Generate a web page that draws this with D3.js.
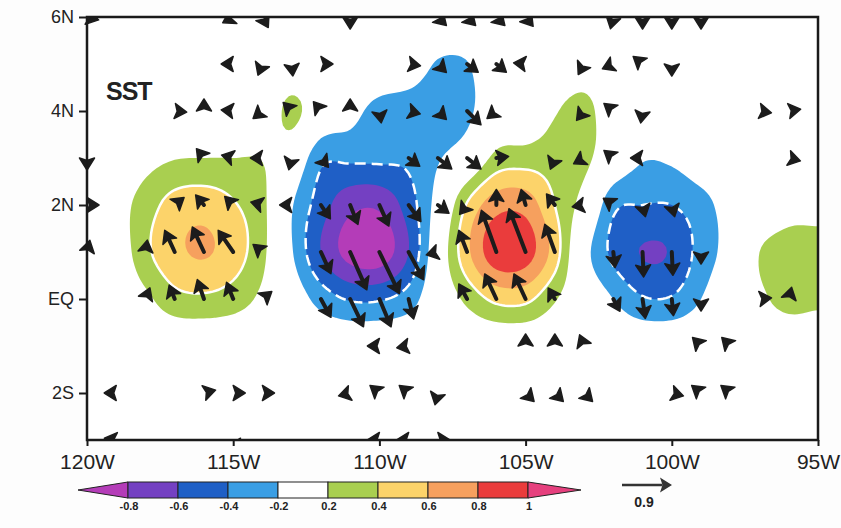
<!DOCTYPE html>
<html>
<head>
<meta charset="utf-8">
<script src="https://cdn.jsdelivr.net/npm/d3@7"></script>
<style>
body { margin: 0; background: #fdfdfd; }
text { font-family: "Liberation Sans", Arial, sans-serif; fill: #222; }
</style>
</head>
<body>
<svg width="841" height="528"></svg>
<script>
// grid of the field, 1 degree
var lons = [-120,-119,-118,-117,-116,-115,-114,-113,-112,-111,-110,-109,-108,-107,-106,-105,-104,-103,-102,-101,-100,-99,-98,-97,-96,-95];
var lats = [6,5,4,3,2,1,0,-1,-2,-3];

// SST anomaly, one row per latitude (west -> east)
var sstN6 = [0,0,0,0,0,0,0,0,0,0,0,0,0,0,0,0,0,0,0,0,0,0,0,0,0,0];
var sstN5 = [0,0,0,0,0,0,0,0,0,0,0,-0.05,-0.22,-0.21,0,0,0,0.05,0,0,0,0,0,0,0,0];
var sstN4 = [0,0,0,0,0,0,0,0.26,0,-0.12,-0.28,-0.32,-0.33,-0.25,0,0,0.18,0.28,0.02,0,0,0,0,0,0,0];
var sstN3 = [0,0,0.12,0.19,0.2,0.2,0.19,0.02,-0.35,-0.36,-0.36,-0.36,-0.22,-0.05,0.26,0.3,0.3,0.26,0,-0.18,-0.16,-0.05,0,0,0,0];
var sstN2 = [0,0.1,0.3,0.48,0.52,0.42,0.25,-0.18,-0.5,-0.74,-0.76,-0.5,-0.1,0.42,0.72,0.72,0.4,0.1,-0.35,-0.4,-0.4,-0.28,-0.1,0,0.1,0.12];
var sstN1 = [0,0.05,0.35,0.55,0.62,0.5,0.25,-0.18,-0.6,-0.88,-0.92,-0.6,0,0.55,0.93,0.9,0.5,-0.1,-0.45,-0.61,-0.58,-0.32,-0.1,0.2,0.3,0.28];
var sstEQ = [0,0,0.15,0.33,0.36,0.3,0.15,-0.05,-0.28,-0.42,-0.42,-0.3,0,0.25,0.45,0.45,0.22,0,-0.2,-0.38,-0.38,-0.2,0,0.15,0.28,0.25];
var sstS1 = [0,0,0,0,0,0,0,0,0,0,0,0,0,0,0,0,0,0,0,0,0,0,0,0,0,0];
var sstS2 = [0,0,0,0,0,0,0,0,0,0,0,0,0,0,0,0,0,0,0,0,0,0,0,0,0,0];
var sstS3 = [0,0,0,0,0,0,0,0,0,0,0,0,0,0,0,0,0,0,0,0,0,0,0,0,0,0];
var sstRows = [sstN6, sstN5, sstN4, sstN3, sstN2, sstN1, sstEQ, sstS1, sstS2, sstS3];

// current vectors [lon, u, v] per latitude
var vecN6 = [[-120,0.2,-0.05],[-115,-0.18,-0.1],[-114,0.1,-0.18],[-111,0,-0.15],[-108,0.15,-0.15],[-107,0.15,-0.15],[-106,0.15,-0.15],[-105,0.12,-0.15],[-102,-0.05,-0.2],[-101,0,-0.18],[-100,0,-0.15],[-99,0,-0.12]];
var vecN5 = [[-115,-0.2,0],[-114,-0.08,-0.2],[-113,0.02,-0.2],[-112,0.2,0],[-109,0.2,-0.03],[-108,0.15,-0.15],[-107,0.2,-0.15],[-106,0.18,-0.15],[-105,-0.2,0.02],[-103,-0.1,-0.18],[-102,-0.18,-0.08],[-101,-0.15,0.12],[-100,0,-0.2]];
var vecN4 = [[-117,0.2,-0.02],[-116,0,0.2],[-115,-0.2,0.02],[-114,-0.15,-0.12],[-113,-0.12,0.12],[-112,-0.12,0.15],[-111,0,0.2],[-110,0.03,-0.2],[-109,0.2,-0.05],[-108,0.15,-0.15],[-107,0.25,-0.25],[-106,-0.15,-0.12],[-103,-0.12,-0.15],[-102,-0.15,0.12],[-101,-0.03,-0.2],[-97,0.2,-0.03],[-96,0.2,0.03]];
var vecN3 = [[-120,0,-0.2],[-116,-0.12,0.15],[-115,-0.2,0.05],[-114,-0.2,0],[-113,-0.05,-0.2],[-112,0.12,-0.15],[-109,0.2,-0.15],[-108,0.25,-0.2],[-107,0.25,-0.2],[-106,0.22,0.03],[-104,-0.08,-0.2],[-103,-0.18,-0.1],[-102,-0.15,0.12],[-101,-0.2,0],[-96,0.2,-0.05]];
var vecN2 = [[-120,0.2,0],[-117,0.15,0.12],[-116,-0.15,0.18],[-115,-0.15,0.15],[-114,-0.2,0.05],[-113,-0.2,0],[-112,0.17,-0.25],[-111,0.14,-0.35],[-110,0.17,-0.38],[-109,0.22,-0.3],[-108,0.2,-0.15],[-107,-0.12,-0.15],[-106,0,0.28],[-105,-0.08,0.28],[-104,-0.15,0.2],[-103,-0.2,-0.03],[-102,-0.15,0.1],[-101,0.05,-0.2],[-100,0.05,-0.2]];
var vecN1 = [[-120,0.05,0.2],[-118,0.03,0.2],[-117,-0.18,0.39],[-116,-0.21,0.45],[-115,-0.27,0.39],[-114,-0.15,0.12],[-112,0.18,-0.39],[-111,0.3,-0.68],[-110,0.36,-0.75],[-109,0.27,-0.5],[-108,-0.2,-0.05],[-107,-0.15,0.39],[-106,-0.27,0.75],[-105,-0.3,0.78],[-104,-0.18,0.5],[-102,0.03,-0.28],[-101,0.02,-0.45],[-100,0.02,-0.42],[-99,0,-0.2]];
var vecEQ = [[-118,0.08,0.2],[-117,-0.1,0.25],[-116,-0.12,0.35],[-115,-0.12,0.3],[-114,0.15,0.12],[-112,0.18,-0.33],[-111,0.24,-0.5],[-110,0.21,-0.5],[-109,0.09,-0.36],[-107,-0.15,0.27],[-106,-0.21,0.45],[-105,-0.21,0.45],[-104,-0.12,0.2],[-102,0.12,-0.22],[-101,0.05,-0.35],[-100,0.03,-0.3],[-99,0,-0.2],[-97,0.2,0.02],[-96,0.05,0.2]];
var vecS1 = [[-110,-0.2,0],[-109,-0.2,-0.03],[-105,0,0.2],[-104,0,0.2],[-103,-0.08,0.2],[-99,-0.15,0.15],[-98,-0.15,0.15]];
var vecS2 = [[-119,-0.2,0],[-116,0.2,0.05],[-115,0.2,0],[-114,0.2,0],[-111,-0.2,-0.05],[-110,-0.15,0.12],[-109,-0.15,0.12],[-108,-0.05,-0.2],[-105,0.15,-0.15],[-104,0.15,-0.15],[-103,0.15,-0.15],[-100,0.2,-0.05],[-99,-0.15,0.12],[-98,-0.15,0.12]];
var vecS3 = [[-119,-0.2,0.03],[-115,0.05,-0.2],[-110,-0.2,0],[-109,-0.2,0],[-108,0.2,0],[-104,0,-0.2],[-103,0,-0.2]];
var vecRows = [vecN6, vecN5, vecN4, vecN3, vecN2, vecN1, vecEQ, vecS1, vecS2, vecS3];

var latTicks = [6,4,2,0,-2];
var latLabels = ["6N","4N","2N","EQ","2S"];
var lonTicks = [-120,-115,-110,-105,-100,-95];
var lonLabels = ["120W","115W","110W","105W","100W","95W"];

var levels = [-0.8,-0.6,-0.4,-0.2,0.2,0.4,0.6,0.8,1];
var levelLabels = ["-0.8","-0.6","-0.4","-0.2","0.2","0.4","0.6","0.8","1"];
var colors = ["#b43cb8","#7440c2","#1f5fc6","#3a9ee4","#ffffff","#a9cf50","#fcd36a","#f6a05e","#ea3c3c","#e6407e"];
var refVector = 0.9;

var svg = d3.select("svg");
var x = d3.scaleLinear().domain([-120,-95]).range([87,818]);
var y = d3.scaleLinear().domain([-3,6]).range([440,17]);
var S = 50 / refVector; // px per unit of current

svg.append("rect").attr("width",841).attr("height",528).attr("fill","#fdfdfd");
svg.append("rect").attr("x",87).attr("y",17).attr("width",731).attr("height",423).attr("fill","#fff");

var defs = svg.append("defs");
defs.append("clipPath").attr("id","plot").append("rect")
  .attr("x",87).attr("y",17).attr("width",731).attr("height",423);
defs.append("clipPath").attr("id","vec").append("rect")
  .attr("x",76).attr("y",17).attr("width",752).attr("height",423);

// smooth the 1-degree grid for contouring (Catmull-Rom)
var step = 0.1;
var nx = Math.round(25/step)+1, ny = Math.round(9/step)+1;
function cr(p0,p1,p2,p3,t){
  return p1 + 0.5*t*(p2-p0 + t*(2*p0-5*p1+4*p2-p3 + t*(3*(p1-p2)+p3-p0)));
}
function at(j,i){
  j = Math.max(0, Math.min(lats.length-1, j));
  i = Math.max(0, Math.min(lons.length-1, i));
  return sstRows[j][i];
}
function sample(gx, gy){
  var i = Math.floor(gx), j = Math.floor(gy);
  var tx = gx-i, ty = gy-j;
  var r = [];
  for (var k=-1; k<=2; k++){
    r.push(cr(at(j+k,i-1), at(j+k,i), at(j+k,i+1), at(j+k,i+2), tx));
  }
  return cr(r[0],r[1],r[2],r[3],ty);
}
var field = new Array(nx*ny);
for (var jj=0; jj<ny; jj++){
  for (var ii=0; ii<nx; ii++){
    field[jj*nx+ii] = sample(ii*step, jj*step);
  }
}
var negField = field.map(function(v){ return -v; });

var proj = d3.geoTransform({point: function(px, py){
  this.stream.point(x(-120 + (px-0.5)*step), y(6 - (py-0.5)*step));
}});
var path = d3.geoPath(proj);
var contours = d3.contours().size([nx, ny]).smooth(true);

var gf = svg.append("g").attr("clip-path","url(#plot)");
// negative bands: light blue, dark blue, purple, magenta
[[0.2,3],[0.4,2],[0.6,1],[0.8,0]].forEach(function(b){
  gf.append("path").datum(contours.contour(negField, b[0]))
    .attr("d", path).attr("fill", colors[b[1]]);
});
// positive bands
[[0.2,5],[0.4,6],[0.6,7],[0.8,8],[1,9]].forEach(function(b){
  gf.append("path").datum(contours.contour(field, b[0]))
    .attr("d", path).attr("fill", colors[b[1]]);
});
// white contour lines at +-0.4
gf.append("path").datum(contours.contour(field, 0.4))
  .attr("d", path).attr("fill","none").attr("stroke","#fff").attr("stroke-width",2.5);
gf.append("path").datum(contours.contour(negField, 0.4))
  .attr("d", path).attr("fill","none").attr("stroke","#fff").attr("stroke-width",2.5)
  .attr("stroke-dasharray","11,6");

// vectors, tail on the grid point
var HEAD = 12, W = 7.5, NOTCH = 2.5;
function arrowParts(x0, y0, dx, dy){
  var len = Math.sqrt(dx*dx+dy*dy);
  var ux = dx/len, uy = dy/len, px = -uy, py = ux;
  var L = Math.max(len, HEAD);
  var tx = x0+ux*L, ty = y0+uy*L;
  var bx = tx-ux*HEAD, by = ty-uy*HEAD;
  var nxp = tx-ux*(HEAD-NOTCH), nyp = ty-uy*(HEAD-NOTCH);
  return {
    shaft: L > HEAD ? [[x0,y0],[nxp,nyp]] : null,
    head: [[tx,ty],[bx+px*W,by+py*W],[nxp,nyp],[bx-px*W,by-py*W]]
  };
}
var arrows = [];
vecRows.forEach(function(row, j){
  row.forEach(function(d){
    arrows.push(arrowParts(x(d[0]), y(lats[j]), d[1]*S, -d[2]*S));
  });
});
var gv = svg.append("g").attr("clip-path","url(#vec)");
gv.selectAll("line.shaft").data(arrows.filter(function(a){ return a.shaft; }))
  .enter().append("line").attr("class","shaft")
  .attr("x1", function(a){ return a.shaft[0][0]; })
  .attr("y1", function(a){ return a.shaft[0][1]; })
  .attr("x2", function(a){ return a.shaft[1][0]; })
  .attr("y2", function(a){ return a.shaft[1][1]; })
  .attr("stroke","#1c1c1c").attr("stroke-width",4).attr("stroke-linecap","round");
gv.selectAll("polygon").data(arrows).enter().append("polygon")
  .attr("points", function(a){ return a.head.map(function(p){ return p.join(","); }).join(" "); })
  .attr("fill","#1c1c1c").attr("stroke","#1c1c1c").attr("stroke-width",1.5).attr("stroke-linejoin","round");

// frame and axes
svg.append("rect").attr("x",87).attr("y",17).attr("width",731).attr("height",423)
  .attr("fill","none").attr("stroke","#1a1a1a").attr("stroke-width",2.5);

var ya = svg.append("g").attr("transform","translate(87,0)")
  .call(d3.axisLeft(y).tickValues(latTicks).tickFormat(function(d,i){ return latLabels[i]; }).tickSize(8).tickPadding(5));
var xa = svg.append("g").attr("transform","translate(0,440)")
  .call(d3.axisBottom(x).tickValues(lonTicks).tickFormat(function(d,i){ return lonLabels[i]; }).tickSize(6).tickPadding(8));
[ya, xa].forEach(function(a){
  a.select(".domain").remove();
  a.selectAll(".tick line").attr("stroke","#1a1a1a").attr("stroke-width",2);
  a.selectAll(".tick text").attr("fill","#222").style("font-family","'Liberation Sans', Arial, sans-serif");
});
ya.selectAll(".tick text").style("font-size","18px");
xa.selectAll(".tick text").style("font-size","21px");

svg.append("text").attr("x",106).attr("y",100).text("SST")
  .style("font-size","25px").style("font-weight","bold").attr("letter-spacing","-1");

// colour bar
var cb = d3.scaleLinear().domain([0,8]).range([128,528]);
var cbY = 482, cbH = 16;
var gc = svg.append("g");
gc.append("polygon")
  .attr("points", [[78,cbY+cbH/2],[cb(0),cbY],[cb(0),cbY+cbH]].map(function(p){ return p.join(","); }).join(" "))
  .attr("fill", colors[0]).attr("stroke","#222").attr("stroke-width",1);
gc.selectAll("rect").data(d3.range(8)).enter().append("rect")
  .attr("x", function(i){ return cb(i); }).attr("y", cbY)
  .attr("width", cb(1)-cb(0)).attr("height", cbH)
  .attr("fill", function(i){ return colors[i+1]; })
  .attr("stroke","#222").attr("stroke-width",1);
gc.append("polygon")
  .attr("points", [[cb(8),cbY],[581,cbY+cbH/2],[cb(8),cbY+cbH]].map(function(p){ return p.join(","); }).join(" "))
  .attr("fill", colors[9]).attr("stroke","#222").attr("stroke-width",1);
gc.selectAll("text").data(levels).enter().append("text")
  .attr("x", function(d,i){ return cb(i)+1; }).attr("y", 510)
  .attr("text-anchor","middle").text(function(d,i){ return levelLabels[i]; })
  .style("font-size","11px").style("font-weight","bold");

// reference vector
var ref = arrowParts(622, 485, refVector*S, 0);
svg.append("line").attr("x1",ref.shaft[0][0]).attr("y1",ref.shaft[0][1])
  .attr("x2",ref.shaft[1][0]).attr("y2",ref.shaft[1][1])
  .attr("stroke","#333").attr("stroke-width",2.5);
svg.append("polygon").attr("points", ref.head.map(function(p){ return p.join(","); }).join(" "))
  .attr("fill","#333");
svg.append("text").attr("x",644).attr("y",507).attr("text-anchor","middle").text(refVector)
  .style("font-size","14px").style("font-weight","bold");
</script>
</body>
</html>
